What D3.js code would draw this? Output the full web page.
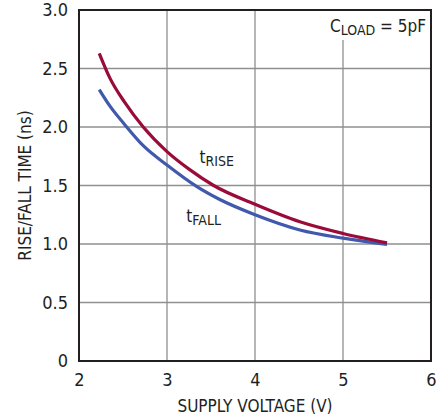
<!DOCTYPE html>
<html>
<head>
<meta charset="utf-8">
<script src="https://cdn.jsdelivr.net/npm/d3@7"></script>
<style>
  body { margin: 0; background: #fff; }
  svg text { font-family: "Liberation Sans Narrow", "DejaVu Sans Condensed", sans-serif; fill: #231f20; }
</style>
</head>
<body>
<div id="chart"></div>
<script>
// datos
const xTicks = [2, 3, 4, 5, 6];
const yTicks = [0, 0.5, 1.0, 1.5, 2.0, 2.5, 3.0];
const yTickLabels = ['0', '0.5', '1.0', '1.5', '2.0', '2.5', '3.0'];

const riseV = [2.23, 2.35, 2.52, 2.73, 3.0, 3.25, 3.53, 4.0, 4.51, 5.0, 5.5];
const riseT = [2.63, 2.42, 2.21, 2.0, 1.79, 1.64, 1.50, 1.34, 1.19, 1.09, 1.01];

const fallV = [2.23, 2.35, 2.52, 2.73, 3.0, 3.34, 3.6, 4.0, 4.51, 5.0, 5.5];
const fallT = [2.32, 2.18, 2.02, 1.84, 1.675, 1.49, 1.38, 1.25, 1.12, 1.05, 0.997];

const COLOR_RISE = '#9a0b3a',
  COLOR_FALL = '#4159ad',
  COLOR_GRID = '#8f8f8f',
  COLOR_FRAME = '#231f20';

let margin = {top: 10, right: 15, bottom: 58, left: 79},
  width = 446 - margin.left - margin.right,
  height = 419 - margin.top - margin.bottom;

let svg = d3.select('#chart')
  .append('svg')
    .attr('width', 446)
    .attr('height', 419)
  .append('g')
    .attr('transform', 'translate(' + margin.left + ',' + margin.top + ')');

let x = d3.scaleLinear().domain([2, 6]).range([0, width]);
let y = d3.scaleLinear().domain([0, 3]).range([height, 0]);

// rejilla
svg.append('g')
  .selectAll('line')
  .data(xTicks.slice(1, -1))
  .enter().append('line')
    .attr('x1', d => x(d)).attr('x2', d => x(d))
    .attr('y1', 0).attr('y2', height)
    .attr('stroke', COLOR_GRID).attr('stroke-width', 1.3);

svg.append('g')
  .selectAll('line')
  .data(yTicks.slice(1, -1))
  .enter().append('line')
    .attr('x1', 0).attr('x2', width)
    .attr('y1', d => y(d)).attr('y2', d => y(d))
    .attr('stroke', COLOR_GRID).attr('stroke-width', 1.3);

// etiqueta C_LOAD con fondo blanco
svg.append('rect')
  .attr('x', x(4.8)).attr('y', 1)
  .attr('width', width - x(4.8) - 1).attr('height', 29)
  .attr('fill', '#fff');

let cload = svg.append('text')
  .attr('x', width - 5).attr('y', 22)
  .attr('text-anchor', 'end')
  .style('font-size', '17px');
cload.append('tspan').text('C');
cload.append('tspan').attr('dy', 3).style('font-size', '14px').text('LOAD');
cload.append('tspan').attr('dy', -3).text(' = 5pF');

// curvas
let line = d3.line().curve(d3.curveMonotoneX);

svg.append('path')
  .attr('d', line(fallV.map((v, i) => [x(v), y(fallT[i])])))
  .attr('fill', 'none')
  .attr('stroke', COLOR_FALL)
  .attr('stroke-width', 3.2);

svg.append('path')
  .attr('d', line(riseV.map((v, i) => [x(v), y(riseT[i])])))
  .attr('fill', 'none')
  .attr('stroke', COLOR_RISE)
  .attr('stroke-width', 3.2);

// marco
svg.append('rect')
  .attr('x', 0).attr('y', 0)
  .attr('width', width).attr('height', height)
  .attr('fill', 'none')
  .attr('stroke', COLOR_FRAME)
  .attr('stroke-width', 2);

// etiquetas de curvas
let tr = svg.append('text')
  .attr('x', x(3.37)).attr('y', y(1.69))
  .style('font-size', '17px');
tr.append('tspan').text('t');
tr.append('tspan').attr('dy', 3).style('font-size', '14px').text('RISE');

let tf = svg.append('text')
  .attr('x', x(3.22)).attr('y', y(1.19))
  .style('font-size', '17px');
tf.append('tspan').text('t');
tf.append('tspan').attr('dy', 3).style('font-size', '14px').text('FALL');

// ejes
let xAxis = svg.append('g')
  .attr('transform', 'translate(0,' + height + ')')
  .call(d3.axisBottom(x).tickValues(xTicks).tickSize(0).tickPadding(12).tickFormat(d3.format('d')));
xAxis.select('.domain').remove();
xAxis.selectAll('text').style('font-size', '18px').attr('fill', '#231f20');

let yAxis = svg.append('g')
  .call(d3.axisLeft(y).tickValues(yTicks).tickSize(0).tickPadding(11)
    .tickFormat((d, i) => yTickLabels[i]));
yAxis.select('.domain').remove();
yAxis.selectAll('text').style('font-size', '18px').attr('fill', '#231f20');

// titulos
svg.append('text')
  .attr('x', width / 2).attr('y', height + 51)
  .attr('text-anchor', 'middle')
  .style('font-size', '17px')
  .text('SUPPLY VOLTAGE (V)');

svg.append('text')
  .attr('transform', 'translate(' + (-48) + ',' + (height / 2) + ') rotate(-90)')
  .attr('text-anchor', 'middle')
  .style('font-size', '17px')
  .text('RISE/FALL TIME (ns)');
</script>
</body>
</html>
